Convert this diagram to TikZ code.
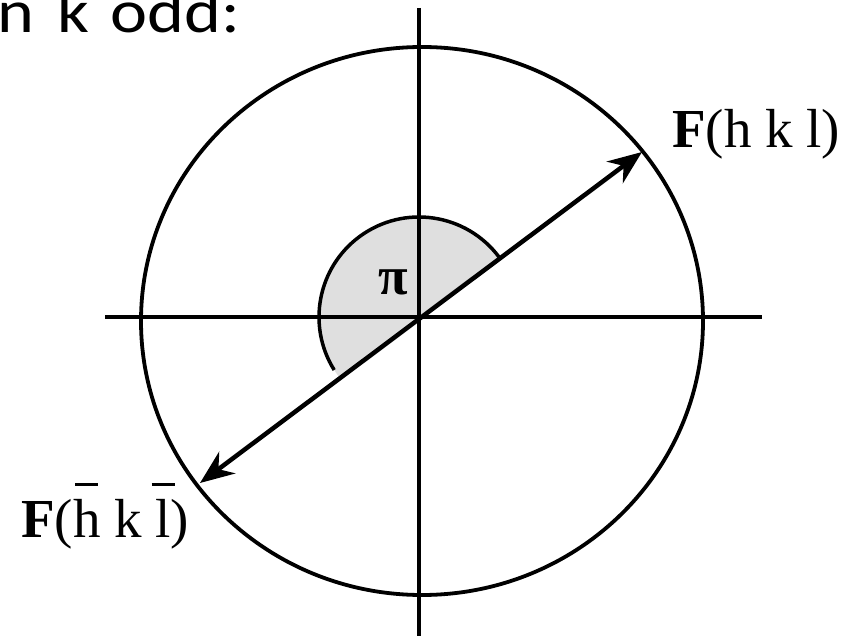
\documentclass[tikz,border=0pt]{standalone}
\usepackage{fontspec}
\setmainfont{Liberation Serif}
\newfontfamily\calfont{Carlito}
\usetikzlibrary{arrows.meta,calc}

% bar over a letter
\newcommand{\barred}[1]{\ooalign{#1\cr\hidewidth\raisebox{0.92em}{\rule{0.42em}{3.5pt}}\hidewidth\cr}}

\begin{document}
\begin{tikzpicture}[x=1pt, y=-1pt, >={Stealth[length=34pt, width=27pt, inset=11pt]},
    lbl/.style={inner sep=0pt, font=\fontsize{55}{55}\selectfont}]

    \clip (0,0) rectangle (841,636);

    % Nadpis (oriznuty)
    \node[anchor=base west, inner sep=0pt, font=\calfont\fontsize{61}{61}\selectfont] (title) at (-3,33)
        {\scalebox{1.15}[1]{n\hspace{0.34em}k\hspace{0.3em}odd:}};

    % Stred a konce vektoru
    \coordinate (O) at (419,317);
    \coordinate (P) at (642,152);
    \coordinate (Q) at (200,483);

    % Seda vysec
    \fill[gray!25] (O) -- ++(36.5:100pt) arc[start angle=36.5, end angle=216.5, radius=100pt] -- cycle;
    \draw[line width=3.5pt] ($(O)+(36.5:100pt)$) arc[start angle=36.5, end angle=212, radius=100pt];
    \node[inner sep=0pt, font=\bfseries\fontsize{54}{54}\selectfont] (pi) at (393,282) {π};

    % Osy
    \draw[line width=3.5pt] (105,317) -- (762,317);
    \draw[line width=3.5pt] (419,8) -- (419,640);

    % Kruznice
    \draw[line width=3.8pt] (422,321) ellipse[x radius=281, y radius=274];

    % Vektory F
    \draw[<->, line width=4.5pt] (Q) -- (P);

    % Popisky
    \node[lbl, anchor=base west] (Fp) at (672,148) {\textbf{F}(h k l)};
    \node[lbl, anchor=base west] (Fm) at (21,537) {\textbf{F}(\barred{h} k \barred{l})};

\end{tikzpicture}
\end{document}
